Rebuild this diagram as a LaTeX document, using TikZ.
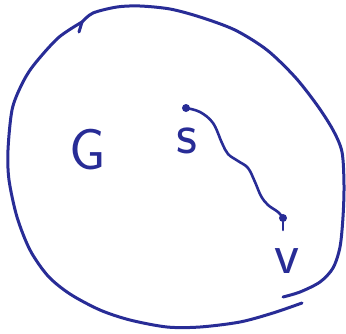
\documentclass[tikz,border=0pt]{standalone}
\definecolor{penblue}{RGB}{40,44,150}
\tikzset{
    penline/.style={draw=penblue, line width=3pt, line cap=round, line join=round},
    dot/.style={circle, fill=penblue, inner sep=0pt, minimum size=8pt},
    handlabel/.style={text=penblue, inner sep=0pt, font=\sffamily\fontsize{58}{58}\selectfont},
}
\begin{document}
\begin{tikzpicture}[x=1pt,y=-1pt]
    \useasboundingbox (0,0) rectangle (346,333);
    % the set G, drawn in two strokes
    \draw[penline] plot[smooth] coordinates {(82,22) (93,13) (117,7) (140,6) (170,9) (200,17)
        (235,30) (267,50) (295,77) (317,105) (333,130) (342,152) (344,185) (343,217)
        (340,247) (333,268) (320,282) (300,292) (283,297)};
    \draw[penline] plot[smooth] coordinates {(302,303) (273,313) (240,322) (200,327) (167,327)
        (130,320) (100,310) (70,294) (48,276) (30,250) (17,217) (9,180) (8,150) (12,110)
        (21,86) (33,66) (58,38) (82,22)};
    \draw[penline] (82,22) -- (79,32);
    % vertices
    \node[dot] (s) at (186,108) {};
    \node[dot] (v) at (283,218) {};
    \node[handlabel] (G) at (88,150) {G};
    \node[handlabel] (slabel) at (187,141) {s};
    \node[handlabel] (vlabel) at (287,261) {v};
    % path from s to v
    \draw[penline, line width=2.6pt] plot[smooth, tension=0.6] coordinates {(s) (200,112) (213,123)
        (222,143) (228,154) (238,161) (248,168) (255,182) (261,196) (268,205) (278,212) (v)};
    \draw[penline, line width=2.6pt] (v) -- ++(0,12);
\end{tikzpicture}
\end{document}
